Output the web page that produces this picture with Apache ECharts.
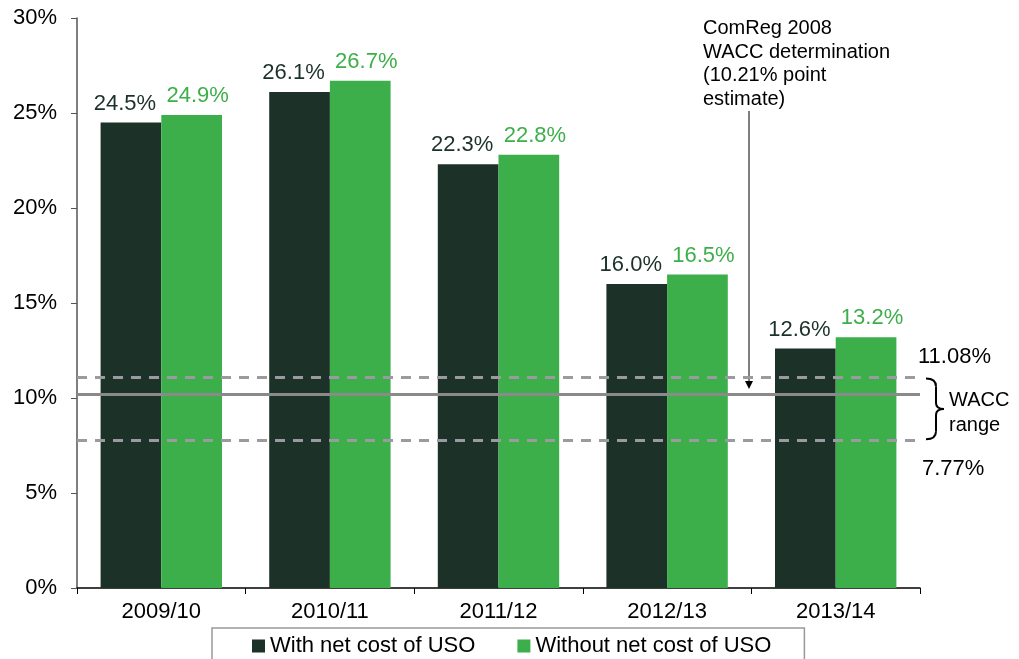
<!DOCTYPE html>
<html>
<head>
<meta charset="utf-8">
<script src="https://cdn.jsdelivr.net/npm/echarts@6/dist/echarts.min.js"></script>
<style>
  html, body { margin: 0; padding: 0; background: #fff; }
  #chart { width: 1019px; height: 659px; }
</style>
</head>
<body>
<div id="chart"></div>
<script>
const categories = ['2009/10', '2010/11', '2011/12', '2012/13', '2013/14'];
const withUso = [24.5, 26.1, 22.3, 16.0, 12.6];
const withoutUso = [24.9, 26.7, 22.8, 16.5, 13.2];
const seriesNames = ['With net cost of USO', 'Without net cost of USO'];
const waccPoint = 10.21;
const waccHigh = 11.08;
const waccLow = 7.77;

const DARK = '#1c3127';
const GREEN = '#3daf4a';
const FONT = 'Liberation Sans, Arial, sans-serif';

const chart = echarts.init(document.getElementById('chart'), null, { renderer: 'canvas' });

const labelStyle = (color, dx) => ({
  show: true,
  position: 'top',
  distance: 8,
  offset: [dx, 0],
  color: color,
  fontSize: 22,
  fontFamily: FONT,
  formatter: (p) => p.value.toFixed(1) + '%'
});

const option = {
  animation: false,
  textStyle: { fontFamily: FONT },
  grid: { left: 77, right: 99, top: 18, bottom: 71 },
  legend: {
    left: 212,
    top: 628,
    padding: [7, 33, 7, 40],
    itemGap: 42,
    itemWidth: 13,
    itemHeight: 13,
    borderColor: '#999',
    borderWidth: 1.5,
    borderRadius: 0,
    icon: 'rect',
    textStyle: { fontSize: 22, color: '#000', fontFamily: FONT },
    data: seriesNames
  },
  xAxis: {
    type: 'category',
    data: categories,
    axisLine: { lineStyle: { color: '#000', width: 1.5 } },
    axisTick: { show: true, length: 6, lineStyle: { color: '#000' } },
    axisLabel: { fontSize: 22, color: '#000', margin: 13, fontFamily: FONT }
  },
  yAxis: {
    type: 'value',
    min: 0,
    max: 30,
    interval: 5,
    axisLine: { show: true, lineStyle: { color: '#555', width: 1.5 } },
    axisTick: { show: true, length: 6, lineStyle: { color: '#555' } },
    splitLine: { show: false },
    axisLabel: { fontSize: 22, color: '#000', margin: 20, formatter: '{value}%', fontFamily: FONT }
  },
  series: [
    {
      name: seriesNames[0],
      type: 'bar',
      data: withUso,
      barGap: '0%',
      barCategoryGap: '28%',
      itemStyle: { color: DARK },
      label: labelStyle(DARK, -6),
      markLine: {
        silent: true,
        symbol: 'none',
        label: { show: false },
        data: [
          { yAxis: waccPoint, lineStyle: { color: '#8a8a8a', width: 3, type: 'solid' } },
          { yAxis: waccHigh, lineStyle: { color: '#9a9aa0', width: 3, type: [10, 8] } },
          { yAxis: waccLow, lineStyle: { color: '#9a9aa0', width: 3, type: [10, 8] } }
        ]
      }
    },
    {
      name: seriesNames[1],
      type: 'bar',
      data: withoutUso,
      itemStyle: { color: GREEN },
      label: labelStyle(GREEN, 6)
    }
  ]
};

chart.setOption(option);

// annotations placed from axis coordinates
function drawNotes() {
  const yHigh = chart.convertToPixel({ yAxisIndex: 0 }, waccHigh);
  const yLow = chart.convertToPixel({ yAxisIndex: 0 }, waccLow);
  const yPoint = chart.convertToPixel({ yAxisIndex: 0 }, waccPoint);
  const x3 = chart.convertToPixel({ xAxisIndex: 0 }, categories[3]);
  const x4 = chart.convertToPixel({ xAxisIndex: 0 }, categories[4]);
  const arrowX = Math.round((x3 + x4) / 2) - 2;
  const rightX = 920;
  const bx = 936;
  const mid = (yHigh + yLow) / 2;
  const brace = { stroke: '#000', lineWidth: 2, fill: null };

  chart.setOption({
    graphic: [
      {
        type: 'text',
        x: arrowX - 46,
        y: 17,
        style: {
          text: 'ComReg 2008\nWACC determination\n(10.21% point\nestimate)',
          font: '20px ' + FONT,
          lineHeight: 23.5,
          fill: '#000'
        }
      },
      {
        type: 'line',
        shape: { x1: arrowX, y1: 111, x2: arrowX, y2: yPoint - 10 },
        style: { stroke: '#555', lineWidth: 1.5 }
      },
      {
        type: 'polygon',
        shape: { points: [[arrowX - 4, yPoint - 13], [arrowX + 4, yPoint - 13], [arrowX, yPoint - 5]] },
        style: { fill: '#000' }
      },
      {
        type: 'text',
        x: rightX - 2,
        y: yHigh - 21,
        style: { text: '11.08%', font: '22px ' + FONT, fill: '#000', verticalAlign: 'middle' }
      },
      {
        type: 'text',
        x: rightX + 2,
        y: yLow + 29,
        style: { text: '7.77%', font: '22px ' + FONT, fill: '#000', verticalAlign: 'middle' }
      },
      {
        type: 'bezierCurve',
        shape: { x1: bx - 10, y1: yHigh + 1, cpx1: bx, cpy1: yHigh + 1, x2: bx, y2: yHigh + 9 },
        style: brace
      },
      {
        type: 'line',
        shape: { x1: bx, y1: yHigh + 9, x2: bx, y2: mid - 6 },
        style: brace
      },
      {
        type: 'bezierCurve',
        shape: { x1: bx, y1: mid - 6, cpx1: bx, cpy1: mid, x2: bx + 8, y2: mid },
        style: brace
      },
      {
        type: 'bezierCurve',
        shape: { x1: bx + 8, y1: mid, cpx1: bx, cpy1: mid, x2: bx, y2: mid + 6 },
        style: brace
      },
      {
        type: 'line',
        shape: { x1: bx, y1: mid + 6, x2: bx, y2: yLow - 9 },
        style: brace
      },
      {
        type: 'bezierCurve',
        shape: { x1: bx, y1: yLow - 9, cpx1: bx, cpy1: yLow - 1, x2: bx - 10, y2: yLow - 1 },
        style: brace
      },
      {
        type: 'text',
        x: bx + 13,
        y: mid + 4,
        style: {
          text: 'WACC\nrange',
          font: '20px ' + FONT,
          lineHeight: 25,
          fill: '#000',
          verticalAlign: 'middle'
        }
      }
    ]
  });
}

drawNotes();
window.addEventListener('resize', () => {
  chart.resize();
  drawNotes();
});
</script>
</body>
</html>
